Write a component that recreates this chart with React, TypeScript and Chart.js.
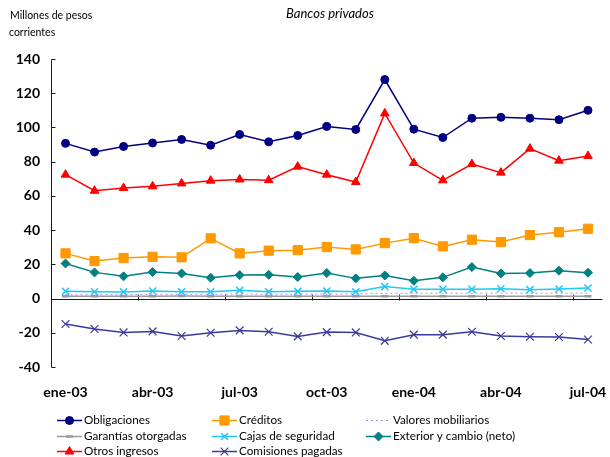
import React, { useEffect, useRef } from "react";
import { Chart, registerables } from "chart.js";
import { drawPoint } from "chart.js/helpers";

Chart.register(...registerables);

// Monthly commission income, private banks (millions of current pesos)
const months = [
  "ene-03", "feb-03", "mar-03", "abr-03", "may-03", "jun-03", "jul-03", "ago-03", "sep-03",
  "oct-03", "nov-03", "dic-03", "ene-04", "feb-04", "mar-04", "abr-04", "may-04", "jun-04", "jul-04",
];

const obligaciones = [90.7, 85.6, 88.9, 90.9, 93.0, 89.6, 95.9, 91.6, 95.3, 100.6, 98.8, 128.0, 99.0, 94.1, 105.4, 105.9, 105.4, 104.5, 110.0];
const creditos = [26.4, 21.9, 23.7, 24.4, 24.1, 35.2, 26.4, 28.0, 28.3, 30.1, 28.7, 32.4, 35.3, 30.5, 34.4, 33.0, 37.1, 38.8, 40.8];
const valoresMobiliarios = [2.2, 2.2, 2.2, 2.5, 2.5, 2.5, 2.6, 2.5, 2.6, 2.6, 2.7, 3.0, 3.1, 3.1, 3.1, 3.2, 3.1, 3.1, 3.2];
const garantiasOtorgadas = [1.3, 1.3, 1.3, 1.4, 1.5, 1.4, 1.4, 1.3, 1.3, 1.3, 1.4, 1.4, 1.3, 1.4, 1.3, 1.3, 1.4, 1.4, 1.4];
const cajasSeguridad = [4.2, 4.0, 3.9, 4.4, 4.0, 4.0, 4.8, 4.0, 4.2, 4.4, 4.0, 7.0, 5.4, 5.4, 5.4, 5.7, 5.2, 5.6, 6.2];
const exteriorCambio = [20.5, 15.3, 13.0, 15.5, 14.7, 12.2, 13.7, 13.9, 12.6, 14.9, 11.8, 13.5, 10.4, 12.4, 18.4, 14.7, 14.9, 16.3, 15.1];
const otrosIngresos = [72.4, 63.0, 64.6, 65.6, 67.3, 68.9, 69.6, 69.2, 77.1, 72.4, 68.1, 108.2, 79.2, 69.1, 78.6, 73.6, 87.6, 80.6, 83.3];
const comisionesPagadas = [-14.9, -17.8, -19.8, -19.2, -21.9, -20.0, -18.6, -19.4, -22.1, -19.6, -19.8, -24.7, -21.1, -21.1, -19.4, -21.9, -22.3, -22.5, -23.9];

const yMin = -40;
const yMax = 140;
const yStep = 20;

const FONT = "Lato, 'DejaVu Sans', sans-serif";

// Legend layout: [dataset index, column, row]
const legendCells: [number, number, number][] = [
  [0, 0, 0], [1, 1, 0], [2, 2, 0],
  [3, 0, 1], [4, 1, 1], [5, 2, 1],
  [6, 0, 2], [7, 1, 2],
];
const legendCols = [57, 212, 366];
const legendRows = [420, 436, 451];

const decorations = {
  id: "decorations",
  beforeDatasetsDraw(chart: any) {
    const { ctx, chartArea: a, scales } = chart;
    const x = scales.x;
    const y = scales.y;
    ctx.save();
    ctx.strokeStyle = "#1a1a1a";
    ctx.lineWidth = 1;
    ctx.beginPath();
    const ax = Math.round(a.left) + 0.5;
    ctx.moveTo(ax, Math.round(y.getPixelForValue(yMax)) + 0.5);
    ctx.lineTo(ax, Math.round(y.getPixelForValue(yMin)) + 0.5);
    y.ticks.forEach((t: any) => {
      const py = Math.round(y.getPixelForValue(t.value)) + 0.5;
      ctx.moveTo(ax, py);
      ctx.lineTo(ax + 4, py);
    });
    const z = Math.round(y.getPixelForValue(0)) + 0.5;
    ctx.moveTo(ax, z);
    ctx.lineTo(a.right, z);
    for (let i = 3; i < months.length; i += 3) {
      const px = Math.round((x.getPixelForValue(i - 1) + x.getPixelForValue(i)) / 2) + 0.5;
      ctx.moveTo(px, z - 5);
      ctx.lineTo(px, z + 1);
    }
    ctx.stroke();
    ctx.restore();
  },
  afterDraw(chart: any) {
    const { ctx } = chart;
    ctx.save();
    ctx.fillStyle = "#000";
    ctx.textBaseline = "middle";

    ctx.font = `italic 13px ${FONT}`;
    ctx.textAlign = "center";
    ctx.fillText("Bancos privados", 330, 14);

    ctx.font = `10.5px ${FONT}`;
    ctx.textAlign = "left";
    ctx.fillText("Millones de pesos", 10, 16);
    ctx.fillText("corrientes", 9, 33);

    ctx.font = `11.7px ${FONT}`;
    legendCells.forEach(([di, c, r]) => {
      const ds = chart.data.datasets[di];
      const x0 = legendCols[c];
      const yy = legendRows[r] + 0.5;
      ctx.save();
      ctx.strokeStyle = ds.borderColor;
      ctx.lineWidth = ds.borderWidth;
      ctx.setLineDash(ds.borderDash || []);
      ctx.beginPath();
      ctx.moveTo(x0, yy);
      ctx.lineTo(x0 + 25, yy);
      ctx.stroke();
      ctx.setLineDash([]);
      if (ds.pointRadius > 0) {
        ctx.fillStyle = ds.pointBackgroundColor;
        ctx.strokeStyle = ds.pointBorderColor;
        ctx.lineWidth = ds.pointBorderWidth;
        drawPoint(ctx, { pointStyle: ds.pointStyle, radius: ds.pointRadius, rotation: 0, borderWidth: ds.pointBorderWidth }, x0 + 12.5, yy);
      }
      ctx.restore();
      ctx.fillStyle = "#000";
      ctx.fillText(ds.label, x0 + 27, legendRows[r]);
    });
    ctx.restore();
  },
};

function series(label: string, data: number[], color: string, pointStyle: any, radius: number, extra: any = {}) {
  return {
    label,
    data,
    borderColor: color,
    backgroundColor: color,
    borderWidth: 1.5,
    pointStyle,
    pointRadius: radius,
    pointBackgroundColor: color,
    pointBorderColor: color,
    pointBorderWidth: 1,
    tension: 0,
    fill: false,
    ...extra,
  };
}

export default function App() {
  const ref = useRef<HTMLCanvasElement | null>(null);

  useEffect(() => {
    if (!ref.current) return;
    const chart = new Chart(ref.current, {
      type: "line",
      data: {
        labels: months,
        datasets: [
          series("Obligaciones", obligaciones, "#000080", "circle", 4),
          series("Créditos", creditos, "#FF9900", "rect", 6.5),
          series("Valores mobiliarios", valoresMobiliarios, "#A68CFF", "circle", 0, { borderDash: [2, 3], borderWidth: 1 }),
          series("Garantías otorgadas", garantiasOtorgadas, "#9A9A9A", "line", 3.5, { pointBorderWidth: 2.5 }),
          series("Cajas de seguridad", cajasSeguridad, "#1FC8F5", "crossRot", 5, { pointBorderWidth: 1.5 }),
          series("Exterior y cambio (neto)", exteriorCambio, "#008080", "rectRot", 4.5),
          series("Otros ingresos", otrosIngresos, "#FF0000", "triangle", 5),
          series("Comisiones pagadas", comisionesPagadas, "#3A3A9A", "crossRot", 5.5, { pointBorderWidth: 1.2 }),
        ],
      },
      options: {
        animation: false,
        responsive: false,
        maintainAspectRatio: false,
        layout: { padding: { top: 59, right: 5, left: 0, bottom: 0 } },
        plugins: {
          legend: { display: false },
          title: { display: false },
          tooltip: { enabled: false },
        },
        scales: {
          x: {
            type: "category",
            offset: true,
            grid: { display: false, drawTicks: false },
            border: { display: false },
            ticks: {
              autoSkip: false,
              maxRotation: 0,
              minRotation: 0,
              padding: 17,
              color: "#000",
              font: { family: FONT, size: 14, weight: "bold" },
              callback: (_v: any, i: number) => (i % 3 === 0 ? months[i] : ""),
            },
            afterFit: (s: any) => {
              s.height = 90;
              s.paddingLeft = 0;
              s.paddingRight = 0;
            },
          },
          y: {
            min: yMin,
            max: yMax,
            grid: { display: false, drawTicks: false },
            border: { display: false },
            ticks: {
              stepSize: yStep,
              padding: 11,
              color: "#000",
              font: { family: FONT, size: 14, weight: "bold" },
            },
            afterFit: (s: any) => {
              s.width = 51;
              s.paddingTop = 0;
              s.paddingBottom = 0;
            },
          },
        },
      } as any,
      plugins: [decorations],
    });
    return () => chart.destroy();
  }, []);

  return (
    <div style={{ position: "fixed", left: 0, top: 0, width: 610, height: 457, background: "#fff" }}>
      <canvas ref={ref} width={610} height={457} style={{ display: "block", width: 610, height: 457 }} />
    </div>
  );
}
